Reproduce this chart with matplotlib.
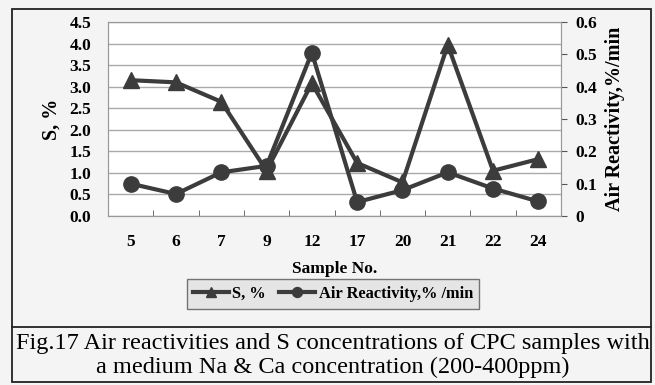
import matplotlib
matplotlib.use('Agg')
import matplotlib.pyplot as plt
from matplotlib.patches import Rectangle
from matplotlib.lines import Line2D
from matplotlib.ticker import FixedLocator

samples = ['5', '6', '7', '9', '12', '17', '20', '21', '22', '24']
s_pct = [3.15, 3.1, 2.65, 1.05, 3.08, 1.23, 0.78, 3.97, 1.05, 1.32]
air_react = [0.10, 0.068, 0.135, 0.155, 0.505, 0.043, 0.08, 0.135, 0.085, 0.045]
left_ticks = [0.0, 0.5, 1.0, 1.5, 2.0, 2.5, 3.0, 3.5, 4.0, 4.5]
right_ticks = [0, 0.1, 0.2, 0.3, 0.4, 0.5, 0.6]

plt.rcParams['font.family'] = ['Liberation Serif', 'DejaVu Serif']
line_col = '#3c3c3c'

fig = plt.figure(figsize=(6.55, 3.85), dpi=100)
fig.patch.set_facecolor('#f4f4f4')

# outer frame and caption separator
fig.patches.append(Rectangle((12 / 655, 3 / 385), 639 / 655, 373 / 385, transform=fig.transFigure,
                             fill=False, edgecolor='#222222', linewidth=1.3))
fig.add_artist(Line2D([12 / 655, 651 / 655], [58 / 385, 58 / 385], transform=fig.transFigure,
                      color='#222222', linewidth=1.3))

ax = fig.add_axes([108 / 655, 169 / 385, 453 / 655, 194 / 385])
ax.set_facecolor('white')
x = list(range(len(samples)))

ax.plot(x, s_pct, color=line_col, lw=3, marker='^', ms=11, label='S, %', zorder=3)
ax.set_ylim(0, 4.5)
ax.set_xlim(-0.5, len(samples) - 0.5)
ax.set_yticks(left_ticks)
ax.set_yticklabels([f'{v:.1f}' for v in left_ticks], fontweight='bold', fontsize=12.5)
ax.set_xticks(x)
ax.set_xticklabels(samples, fontweight='bold', fontsize=12.5)
ax.tick_params(axis='x', which='major', length=0, pad=13)
ax.xaxis.set_minor_locator(FixedLocator([i + 0.5 for i in range(len(samples) - 1)]))
ax.tick_params(axis='x', which='minor', direction='in', length=4, color='#555555')
ax.tick_params(axis='y', length=0, pad=12)
ax.grid(axis='y', color='#aaaaaa', lw=1)
ax.set_axisbelow(True)
for sp in ax.spines.values():
    sp.set_color('#999999')
ax.set_ylabel('S, %', fontweight='bold', fontsize=14.5, labelpad=6)
ax.set_xlabel('Sample No.', fontweight='bold', fontsize=12.5, labelpad=8)

ax2 = ax.twinx()
ax2.plot(x, air_react, color=line_col, lw=3, marker='o', ms=11, label='Air Reactivity,% /min', zorder=3)
ax2.set_ylim(0, 0.6)
ax2.set_yticks(right_ticks)
ax2.set_yticklabels(['0'] + [f'{v:.1f}' for v in right_ticks[1:]], fontweight='bold', fontsize=12.5)
ax2.tick_params(axis='y', length=4, color='#555555', pad=6)
for sp in ax2.spines.values():
    sp.set_color('#999999')
ax2.set_ylabel('Air Reactivity,%/min', fontweight='bold', fontsize=14.5, labelpad=6)

h1, l1 = ax.get_legend_handles_labels()
h2, l2 = ax2.get_legend_handles_labels()
leg = fig.legend(h1 + h2, l1 + l2, loc='center', bbox_to_anchor=(333 / 655, 91 / 385), ncol=2,
                 prop={'weight': 'bold', 'size': 11.8}, frameon=True, fancybox=False,
                 handlelength=2.2, handletextpad=0.2, columnspacing=0.8, markerscale=0.65,
                 borderpad=0.4)
leg.get_frame().set_facecolor('#e2e2e2')
leg.get_frame().set_edgecolor('#555555')
leg.get_frame().set_linewidth(1)

fig.text(333 / 655, 42 / 385, 'Fig.17 Air reactivities and S concentrations of CPC samples with',
         ha='center', va='center', fontsize=17.5)
fig.text(333 / 655, 18 / 385, 'a medium Na & Ca concentration (200-400ppm)',
         ha='center', va='center', fontsize=17.5)

fig.savefig('out.png', dpi=100, facecolor=fig.get_facecolor())
